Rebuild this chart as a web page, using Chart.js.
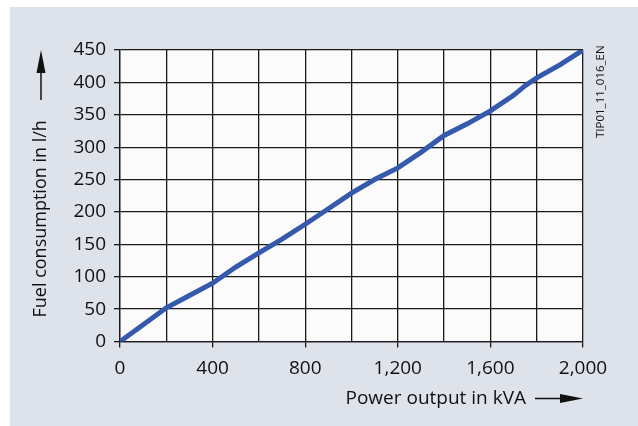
<!DOCTYPE html>
<html>
<head>
<meta charset="utf-8">
<script src="https://cdn.jsdelivr.net/npm/chart.js@4"></script>
<style>
  html, body { margin: 0; padding: 0; background: #ffffff; }
  #wrap { position: absolute; left: 10px; top: 7px; width: 628px; height: 419px; background: #dee2ea; }
</style>
</head>
<body>
<div id="wrap"><canvas id="fuelChart" width="628" height="419"></canvas></div>
<script>
// power output in kVA
const powerKva = [0, 100, 200, 300, 400, 500, 600, 700, 800, 900, 1000, 1100, 1200, 1300, 1400, 1500, 1600, 1700, 1750, 1800, 1900, 2000];
// fuel consumption in l/h
const fuelLh = [0, 26, 52, 71, 90, 115, 137, 158, 181, 205, 229, 250, 268, 292, 318, 336, 356, 380, 395, 407, 427, 450];
const xTitle = 'Power output in kVA';
const yTitle = 'Fuel consumption in l/h';
const docCode = 'TIP01_11_016_EN';

const FONT = '"Open Sans", "Noto Sans", sans-serif';

function arrowHead(ctx, x, y, dir) {
    // dir: 'right' or 'up'
    ctx.beginPath();
    if (dir === 'right') {
        ctx.moveTo(x, y);
        ctx.lineTo(x - 23, y - 4.5);
        ctx.lineTo(x - 23, y + 4.5);
    } else {
        ctx.moveTo(x, y);
        ctx.lineTo(x - 4.5, y + 23);
        ctx.lineTo(x + 4.5, y + 23);
    }
    ctx.closePath();
    ctx.fill();
}

const decorations = {
    id: 'decorations',
    beforeDraw(chart) {
        const { ctx, chartArea } = chart;
        ctx.save();
        ctx.fillStyle = '#fbfbfb';
        ctx.fillRect(chartArea.left, chartArea.top, chartArea.right - chartArea.left, chartArea.bottom - chartArea.top);
        ctx.restore();
    },
    afterDraw(chart) {
        const { ctx, chartArea } = chart;
        ctx.save();
        ctx.fillStyle = '#111';
        ctx.strokeStyle = '#111';
        ctx.lineWidth = 1.5;

        // x title with arrow
        const xy = chartArea.bottom + 57;
        ctx.font = '19px ' + FONT;
        ctx.textAlign = 'right';
        ctx.textBaseline = 'middle';
        ctx.fillText(xTitle, chartArea.right - 57, xy);
        ctx.beginPath();
        ctx.moveTo(chartArea.right - 48, xy);
        ctx.lineTo(chartArea.right - 20, xy);
        ctx.stroke();
        arrowHead(ctx, chartArea.right, xy, 'right');

        // y title with arrow
        const yx = 31;
        ctx.save();
        ctx.translate(yx, chartArea.bottom - 24);
        ctx.rotate(-Math.PI / 2);
        ctx.font = '18px ' + FONT;
        ctx.textAlign = 'left';
        ctx.fillText(yTitle, 0, 0);
        ctx.restore();
        ctx.beginPath();
        ctx.moveTo(yx, chartArea.top + 50);
        ctx.lineTo(yx, chartArea.top + 20);
        ctx.stroke();
        arrowHead(ctx, yx, chartArea.top, 'up');

        // document code
        ctx.save();
        ctx.translate(chartArea.right + 18, chartArea.top + 88);
        ctx.rotate(-Math.PI / 2);
        ctx.font = '11.5px ' + FONT;
        ctx.textAlign = 'left';
        ctx.fillText(docCode, 0, 0);
        ctx.restore();

        ctx.restore();
    }
};

const ctx = document.getElementById('fuelChart').getContext('2d');
new Chart(ctx, {
    type: 'line',
    data: {
        datasets: [{
            data: powerKva.map((p, i) => ({ x: p, y: fuelLh[i] })),
            borderColor: '#3459ad',
            borderWidth: 5,
            pointRadius: 0,
            tension: 0,
            fill: false
        }]
    },
    options: {
        responsive: false,
        animation: false,
        devicePixelRatio: 1,
        layout: { padding: { top: 43, right: 55, left: 0, bottom: 0 } },
        plugins: { legend: { display: false }, tooltip: { enabled: false } },
        scales: {
            x: {
                type: 'linear',
                min: 0,
                max: 2000,
                afterFit: s => { s.height = 84.5; },
                grid: {
                    color: '#1a1a1a',
                    lineWidth: 1.3,
                    tickLength: 6,
                    tickColor: c => (c.tick && c.tick.value % 400 === 0) ? '#1a1a1a' : 'rgba(0,0,0,0)'
                },
                border: { color: '#1a1a1a', width: 1.3 },
                ticks: {
                    stepSize: 200,
                    padding: 10,
                    maxRotation: 0,
                    autoSkip: false,
                    color: '#111',
                    font: { family: FONT, size: 19 },
                    callback: v => v % 400 === 0 ? v.toLocaleString('en-US') : ''
                }
            },
            y: {
                min: 0,
                max: 450,
                afterFit: s => { s.width = 110; },
                grid: { color: '#1a1a1a', lineWidth: 1.3, tickLength: 6, tickColor: '#1a1a1a' },
                border: { color: '#1a1a1a', width: 1.3 },
                ticks: {
                    stepSize: 50,
                    padding: 8,
                    color: '#111',
                    font: { family: FONT, size: 19 }
                }
            }
        }
    },
    plugins: [decorations]
});
</script>
</body>
</html>
